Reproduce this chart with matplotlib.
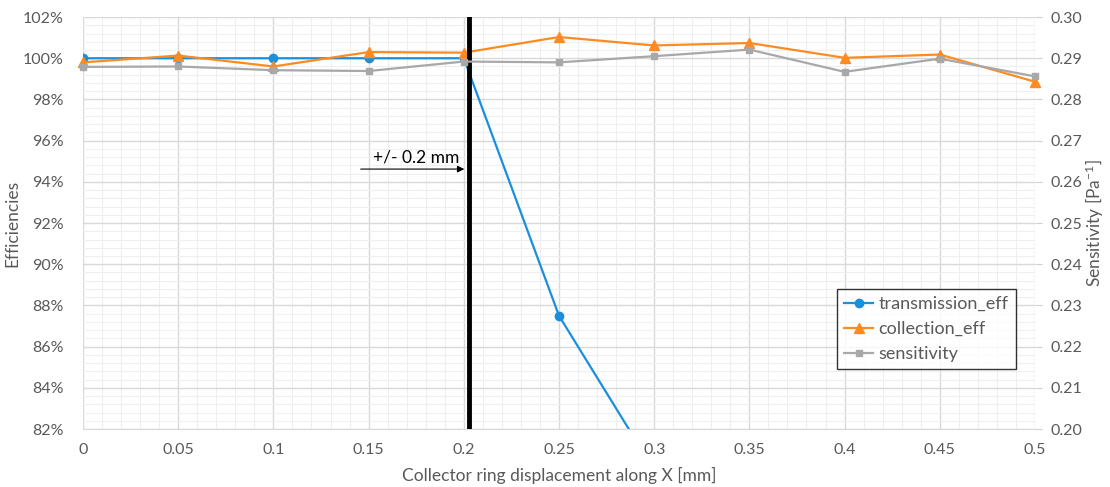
import matplotlib.pyplot as plt
import numpy as np
from matplotlib.ticker import MultipleLocator, PercentFormatter, FormatStrFormatter

plt.rcParams['font.family'] = ['Lato', 'DejaVu Sans']
plt.rcParams['mathtext.default'] = 'regular'

displacement = [0, 0.05, 0.1, 0.15, 0.2, 0.25, 0.3, 0.35, 0.4, 0.45, 0.5]
transmission_eff = [1.0, 1.0, 1.0, 1.0, 1.0, 0.875, 0.80,
                    np.nan, np.nan, np.nan, np.nan]
collection_eff = [0.998, 1.0013, 0.996, 1.003, 1.0027, 1.0103, 1.0062,
                  1.0074, 1.0002, 1.0018, 0.9886]
sensitivity = [0.2879, 0.2880, 0.2871, 0.2869, 0.2892, 0.2890, 0.2905,
               0.2921, 0.2867, 0.2899, 0.2856]

limit_x = 0.2027
label_col = '#595959'
c_blue = '#1a8fdd'
c_orange = '#fd8b22'
c_gray = '#a8a8a8'

fig = plt.figure(figsize=(11.1, 4.87), dpi=100)
ax = fig.add_axes([0.0748, 0.119, 0.8576, 0.846])
ax2 = ax.twinx()

# grid
ax.set_xlim(0, 0.5)
ax.set_ylim(0.82, 1.02)
ax.xaxis.set_major_locator(MultipleLocator(0.05))
ax.xaxis.set_minor_locator(MultipleLocator(0.01))
ax.yaxis.set_major_locator(MultipleLocator(0.02))
ax.yaxis.set_minor_locator(MultipleLocator(0.004))
ax.grid(which='major', color='#d9d9d9', lw=1.0)
ax.grid(which='minor', color='#efefef', lw=0.8)
ax.set_axisbelow(True)
ax.yaxis.set_major_formatter(PercentFormatter(1.0, decimals=0))
ax.xaxis.set_major_formatter(FormatStrFormatter('%g'))

ax.plot(displacement, transmission_eff, color=c_blue, lw=1.6, marker='o',
        ms=6, label='transmission_eff', clip_on=True)
ax.plot(displacement, collection_eff, color=c_orange, lw=1.6, marker='^',
        ms=7, label='collection_eff', clip_on=False, zorder=4)
ax2.plot(displacement, sensitivity, color=c_gray, lw=1.6, marker='s',
         ms=5, label='sensitivity', clip_on=False)
ax2.set_ylim(0.20, 0.30)
ax2.yaxis.set_major_locator(MultipleLocator(0.01))
ax2.yaxis.set_major_formatter(FormatStrFormatter('%.2f'))

ax.axvline(limit_x, color='black', lw=3.5, zorder=5)
ax.annotate('', xy=(limit_x - 0.001, 0.9462), xytext=(0.1444, 0.9462),
            arrowprops=dict(arrowstyle='-|>', color='black', lw=0.8,
                            mutation_scale=10))
ax.text(0.1523, 0.9478, '+/- 0.2 mm', fontsize=12.5, color='black',
        ha='left', va='bottom')

for a in (ax, ax2):
    for s in a.spines.values():
        s.set_visible(False)
ax.spines['bottom'].set_visible(True)
ax.spines['bottom'].set_color('#d9d9d9')

ax.tick_params(axis='both', which='both', length=0, colors=label_col,
               labelsize=11.5)
ax.tick_params(axis='y', pad=14)
ax.tick_params(axis='x', pad=10)
ax2.tick_params(axis='y', length=5, color='#d0d0d0', colors=label_col,
                labelsize=11.5, pad=6)

ax.set_xlabel('Collector ring displacement along X [mm]', fontsize=12.5,
              color=label_col, labelpad=7)
ax.set_ylabel('Efficiencies', fontsize=12.5, color=label_col, labelpad=2)
ax2.set_ylabel('Sensitivity [Pa$^{-1}$]', fontsize=12.5, color=label_col,
               labelpad=1)

h1, l1 = ax.get_legend_handles_labels()
h2, l2 = ax2.get_legend_handles_labels()
leg = ax2.legend(h1 + h2, l1 + l2, loc='upper left',
                 bbox_to_anchor=(0.792, 0.34), fontsize=13,
                 frameon=True, fancybox=False, handlelength=1.6,
                 handletextpad=0.3, borderpad=0.4, labelspacing=0.5,
                 borderaxespad=0)
leg.get_frame().set_edgecolor('black')
leg.get_frame().set_linewidth(1.0)
for t in leg.get_texts():
    t.set_color(label_col)

fig.savefig('out.png', dpi=100)
